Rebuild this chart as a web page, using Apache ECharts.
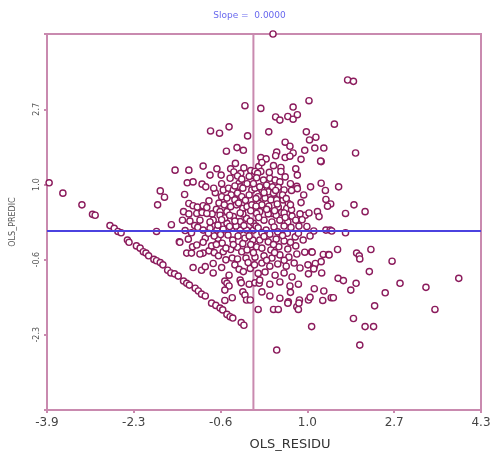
<!DOCTYPE html>
<html><head><meta charset="utf-8">
<script src="https://cdn.jsdelivr.net/npm/echarts@6/dist/echarts.min.js"></script>
<style>html,body{margin:0;padding:0;background:#fff}#c{width:499px;height:460px}</style>
</head><body><div id="c"></div>
<script>
// OLS_RESIDU (x) and OLS_PREDIC (y)
const residu = [
0.37,1.78,1.89,1.05,-0.16,0.14,0.75,-0.81,-0.64,-0.46,-0.11,0.42,0.50,0.65,0.75,0.83,1.53,0.29,1.00,1.06,1.18,-0.51,-0.31,-0.19,0.60,0.69,0.75,0.97,1.16,1.33,
-1.48,-1.22,-0.95,-0.69,-0.82,-0.61,-0.43,-0.34,-0.37,-0.24,-0.30,-0.05,0.00,-0.08,0.10,0.14,0.24,0.16,0.03,0.44,0.42,0.60,0.69,0.90,1.28,1.27,1.93,0.52,0.52,0.80,0.83,0.14,0.08,0.06,
-1.25,-1.14,-0.97,-0.90,-0.44,-0.27,-0.22,-0.25,-1.76,-1.68,-1.81,-1.30,-0.03,0.03,-1.22,-1.14,-1.06,-0.95,-0.84,-1.32,-1.22,-1.07,-0.97,-0.78,-0.70,-0.57,-0.47,-0.38,-0.30,-0.42,-0.60,-0.50,-0.35,-0.22,-0.63,-0.50,-0.43,-0.32,-0.20,-0.12,-0.03,0.03,0.11,
0.19,0.31,0.41,0.50,0.25,0.36,0.47,0.58,0.16,0.28,0.38,0.50,0.09,0.22,0.33,0.44,0.56,0.66,0.16,0.29,0.47,0.63,0.72,0.12,0.35,0.53,0.82,0.83,1.08,1.28,1.36,1.61,0.90,1.37,1.46,1.40,1.21,1.24,1.74,1.90,2.11,0.98,
-3.86,-3.60,-3.24,-3.04,-2.99,-2.71,-2.63,-2.56,-2.50,-2.38,-2.35,-2.21,-2.14,-2.08,-2.03,-1.98,-1.88,-1.83,-1.76,-1.71,-1.62,-1.56,-1.49,-1.42,-1.32,-1.26,-1.21,-1.10,-1.04,-0.98,-0.91,-0.79,-0.71,-0.63,-0.58,-0.50,-0.44,-0.39,-0.23,-0.18,
-1.83,-1.55,-1.34,-1.20,-1.11,-1.05,-1.40,-1.23,-1.26,-1.15,-1.07,-0.95,-1.14,-0.98,-0.91,-0.76,-0.76,-0.60,-0.54,-0.50,-0.46,-0.54,-0.40,-0.54,-0.46,-0.25,-0.23,-0.20,-0.16,-0.13,-0.06,-0.08,0.03,0.11,0.09,-0.35,-0.27,-0.19,-0.06,0.02,0.09,-0.52,-0.40,-0.14,0.03,
-0.88,-0.63,-0.38,-0.13,0.06,-1.01,-0.76,-0.50,-0.25,0.00,-1.29,-1.17,-0.95,-0.82,-0.69,-0.57,-0.41,-0.25,-0.13,0.00,0.05,-1.39,-1.17,-1.01,-0.84,-0.79,-0.74,-0.66,-0.57,-0.43,-0.30,-0.22,-0.12,0.00,0.06,-0.91,-0.67,-0.39,-0.16,-0.01,-0.82,-0.67,-0.54,-0.33,-0.20,-0.06,-0.48,-0.29,-0.59,-0.08,-0.74,
0.28,0.43,0.58,0.73,0.88,0.20,0.35,0.50,0.65,0.80,0.09,0.24,0.39,0.58,0.71,0.86,1.01,1.14,1.37,1.45,1.48,1.74,0.16,0.31,0.46,0.64,0.79,0.94,1.07,0.12,0.28,0.43,0.58,0.16,0.33,0.48,0.65,0.80,0.20,0.35,0.50,0.67,0.82,0.97,1.10,1.32,1.42,1.59,1.28,1.15,1.03,1.04,1.29,
0.16,0.31,0.46,0.62,0.77,0.88,0.22,0.41,0.58,0.73,0.12,0.31,0.50,0.69,1.60,1.70,1.84,1.33,1.15,1.04,0.87,0.66,0.85,0.70,0.82,0.85,0.38,0.47,1.47,1.51,0.16,0.31,0.50,
2.22,1.95,2.00,2.01,2.62,2.19,1.94,2.77,3.26,3.88,2.49,2.29,3.43,1.89,2.11,2.27,1.10,2.01,0.44,1.11,1.43,1.17,1.14,1.31,1.07,0.65,0.86,
-0.72,-0.65,-0.55,-0.28,-0.15,-0.08,0.05,0.12,0.20,0.42,0.55,0.62,0.70,0.45,0.25,0.40,0.60,0.10,-0.05,-0.25,-0.45,-0.88,-0.60,-0.35,-0.18,-0.45,-0.85,-0.62,-0.38,-0.52,
-0.20,-0.05,0.20,0.38,0.55,0.70,0.85,0.92,1.05,0.72,0.95,0.40,0.58,0.25,-0.10,-0.30,-0.70,-0.95,-0.12,-0.35,0.30,0.38,-0.18,0.60,0.70,-0.60,-0.75,-0.20,0.00,0.05
];
const predic = [
4.37,3.35,3.32,2.89,2.78,2.72,2.75,2.22,2.17,2.31,2.11,2.53,2.46,2.54,2.48,2.58,2.37,2.20,2.20,2.02,2.08,1.77,1.85,1.79,1.97,1.88,1.73,1.79,1.84,1.84,
1.35,1.35,1.44,1.38,1.24,1.24,1.38,1.50,1.31,1.28,1.22,1.34,1.23,1.21,1.43,1.63,1.60,1.52,1.32,1.75,1.67,1.63,1.66,1.59,1.54,1.55,1.73,1.41,1.32,1.38,1.24,1.32,1.28,1.18,
1.07,1.09,1.04,0.98,1.17,1.06,1.15,0.98,0.89,0.75,0.58,0.81,0.91,0.95,0.61,0.56,0.53,0.56,0.67,0.43,0.38,0.39,0.41,0.38,0.48,0.91,0.95,0.91,0.84,0.80,0.76,0.73,0.69,0.76,0.43,0.43,0.54,0.58,0.50,0.54,0.58,0.47,0.61,
1.13,1.17,1.13,1.09,1.02,0.98,0.97,0.91,0.91,0.87,0.84,0.80,0.76,0.73,0.69,0.69,0.69,0.61,0.58,0.55,0.53,0.50,0.47,0.43,0.39,0.41,0.99,0.94,0.98,1.06,0.90,0.98,0.63,0.70,0.60,0.55,0.43,0.32,0.39,0.58,0.43,0.35,
1.07,0.84,0.58,0.37,0.35,0.12,0.06,-0.01,-0.04,-0.20,-0.25,-0.33,-0.38,-0.46,-0.49,-0.55,-0.63,-0.66,-0.70,-0.75,-0.87,-0.93,-0.95,-1.00,-1.11,-1.16,-1.20,-1.27,-1.33,-1.40,-1.44,-1.60,-1.65,-1.71,-1.75,-1.85,-1.90,-1.93,-2.03,-2.09,
-0.01,0.14,0.24,0.22,0.12,0.08,-0.24,-0.18,-0.49,-0.35,-0.31,-0.49,-0.81,-0.87,-0.79,-0.72,-0.93,-0.81,-1.11,-1.16,-1.22,-1.31,-1.48,-1.54,-0.98,-1.09,-1.15,-1.35,-1.42,-1.53,-1.53,-1.18,-1.15,-1.16,-1.74,-0.75,-0.85,-0.90,-0.83,-0.75,-0.94,-0.64,-0.60,-0.60,-0.58,
0.39,0.35,0.32,0.28,0.39,0.24,0.24,0.17,0.21,0.17,0.01,-0.04,0.02,0.06,0.02,0.04,0.06,0.02,0.02,0.02,0.11,-0.25,-0.49,-0.51,-0.44,-0.33,-0.48,-0.55,-0.46,-0.41,-0.36,-0.46,-0.42,-0.48,-0.35,-0.16,-0.16,-0.20,-0.16,-0.20,0.20,0.13,0.29,0.11,0.38,0.22,-0.09,-0.11,-0.27,-0.11,-0.11,
0.38,0.35,0.40,0.33,0.38,0.24,0.20,0.24,0.20,0.24,0.07,0.02,0.09,0.11,0.08,0.11,0.10,0.00,0.02,0.02,0.00,-0.04,-0.04,-0.07,-0.02,-0.05,-0.13,-0.20,-0.11,-0.20,-0.24,-0.18,-0.22,-0.38,-0.42,-0.35,-0.40,-0.33,-0.55,-0.60,-0.53,-0.58,-0.51,-0.47,-0.46,-0.52,-0.52,-0.41,-0.68,-0.78,-0.75,-0.95,-0.93,
-0.71,-0.78,-0.73,-0.78,-0.71,-0.82,-0.91,-0.98,-0.93,-1.02,-1.09,-1.18,-1.13,-1.22,-1.05,-1.10,-1.31,-1.33,-1.28,-1.53,-1.53,-1.57,-1.18,-1.36,-1.68,-1.74,-1.74,-1.74,-1.48,-1.48,-1.35,-1.44,-1.49,
-0.41,-0.49,-0.55,-0.62,-0.67,-0.90,-1.16,-1.16,-1.25,-1.05,-1.37,-1.66,-1.74,-1.94,-2.12,-2.12,-2.12,-2.53,-2.64,-0.47,-0.53,-0.72,-0.84,-1.54,-1.47,-1.60,-1.60,
0.85,0.62,0.58,0.62,0.68,0.80,0.72,0.98,0.85,0.90,0.80,0.72,0.58,0.60,0.48,0.45,0.30,0.30,0.45,0.40,0.35,0.52,0.25,0.22,0.12,0.10,-0.05,-0.08,-0.30,-0.38,
-0.28,-0.30,-0.12,-0.30,-0.10,-0.25,-0.05,0.25,0.40,0.90,0.80,-0.48,-0.65,-0.65,-0.70,-0.62,-0.30,-0.25,1.05,1.00,1.30,1.45,1.40,1.20,1.05,1.05,0.95,0.95,1.05,0.55
];
// fitted line (slope 0 through the means) and mean residual
const slope = 0.0;
const intercept = 0.0;
const meanResidu = 0.0;
// axis extents and ticks
const xRange = [-3.9, 4.3];
const yRange = [-3.97, 4.37];
const xTickValues = [-3.9, -2.26, -0.62, 1.02, 2.66, 4.3];
const xTickLabels = ['-3.9', '-2.3', '-0.6', '1.0', '2.7', '4.3'];
const yTickMarks = [-3.97, -2.30, -0.635, 1.03, 2.70, 4.37];
const yTickValues = [-2.30, -0.635, 1.03, 2.70];
const yTickLabels = ['-2.3', '-0.6', '1.0', '2.7'];

const PINK = '#c98aaf';
const MAROON = '#8b1b5c';
const BLUE = '#4b42e0';
const FONT = 'DejaVu Sans';

function lab(vals, labels) {
  return function (v) {
    const i = vals.findIndex(t => Math.abs(t - v) < 1e-6);
    return i >= 0 ? labels[i] : '';
  };
}

const chart = echarts.init(document.getElementById('c'), null, {renderer: 'canvas'});
chart.setOption({
  animation: false,
  backgroundColor: '#fff',
  title: {
    text: 'Slope =  ' + slope.toFixed(4),
    left: 'center', top: 6,
    textStyle: {fontSize: 9, fontWeight: 'normal', color: '#6868ee', fontFamily: FONT}
  },
  grid: {left: 47, right: 18, top: 34, bottom: 50, containLabel: false,
         show: true, borderColor: PINK, borderWidth: 2, backgroundColor: 'transparent'},
  xAxis: {
    type: 'value', min: xRange[0], max: xRange[1],
    name: 'OLS_RESIDU', nameLocation: 'middle', nameGap: 28,
    nameTextStyle: {fontSize: 13, color: '#333', fontFamily: FONT, padding: [0, 0, 0, 52]},
    axisLine: {show: true, onZero: false, lineStyle: {color: PINK, width: 2}},
    axisTick: {show: true, length: 3, customValues: xTickValues, lineStyle: {color: PINK, width: 2}},
    axisLabel: {show: true, customValues: xTickValues, formatter: lab(xTickValues, xTickLabels),
                fontSize: 12, color: '#444', fontFamily: FONT, margin: 7},
    splitLine: {show: false}
  },
  yAxis: {
    type: 'value', min: yRange[0], max: yRange[1],
    name: 'OLS_PREDIC', nameLocation: 'middle', nameGap: 30, nameRotate: 90,
    nameTextStyle: {fontSize: 8, color: '#555', fontFamily: FONT},
    axisLine: {show: true, onZero: false, lineStyle: {color: PINK, width: 2}},
    axisTick: {show: true, length: 3, customValues: yTickMarks, lineStyle: {color: PINK, width: 2}},
    axisLabel: {show: true, customValues: yTickValues, formatter: lab(yTickValues, yTickLabels),
                rotate: 90, fontSize: 8, color: '#555', fontFamily: FONT, margin: 6},
    splitLine: {show: false}
  },
  series: [
    {
      type: 'line', z: 2, symbol: 'none', silent: true,
      data: [[meanResidu, yRange[0]], [meanResidu, yRange[1]]],
      lineStyle: {color: PINK, width: 2}
    },
    {
      type: 'scatter', z: 3, clip: false,
      symbol: 'circle', symbolSize: 6.2,
      data: residu.map((x, i) => [x, predic[i]]),
      itemStyle: {color: '#ffffff', borderColor: MAROON, borderWidth: 1.4, opacity: 1}
    },
    {
      type: 'line', z: 4, symbol: 'none', silent: true,
      data: [[xRange[0], intercept + slope * xRange[0]], [xRange[1], intercept + slope * xRange[1]]],
      lineStyle: {color: BLUE, width: 2}
    }
  ]
});
</script>
</body></html>
